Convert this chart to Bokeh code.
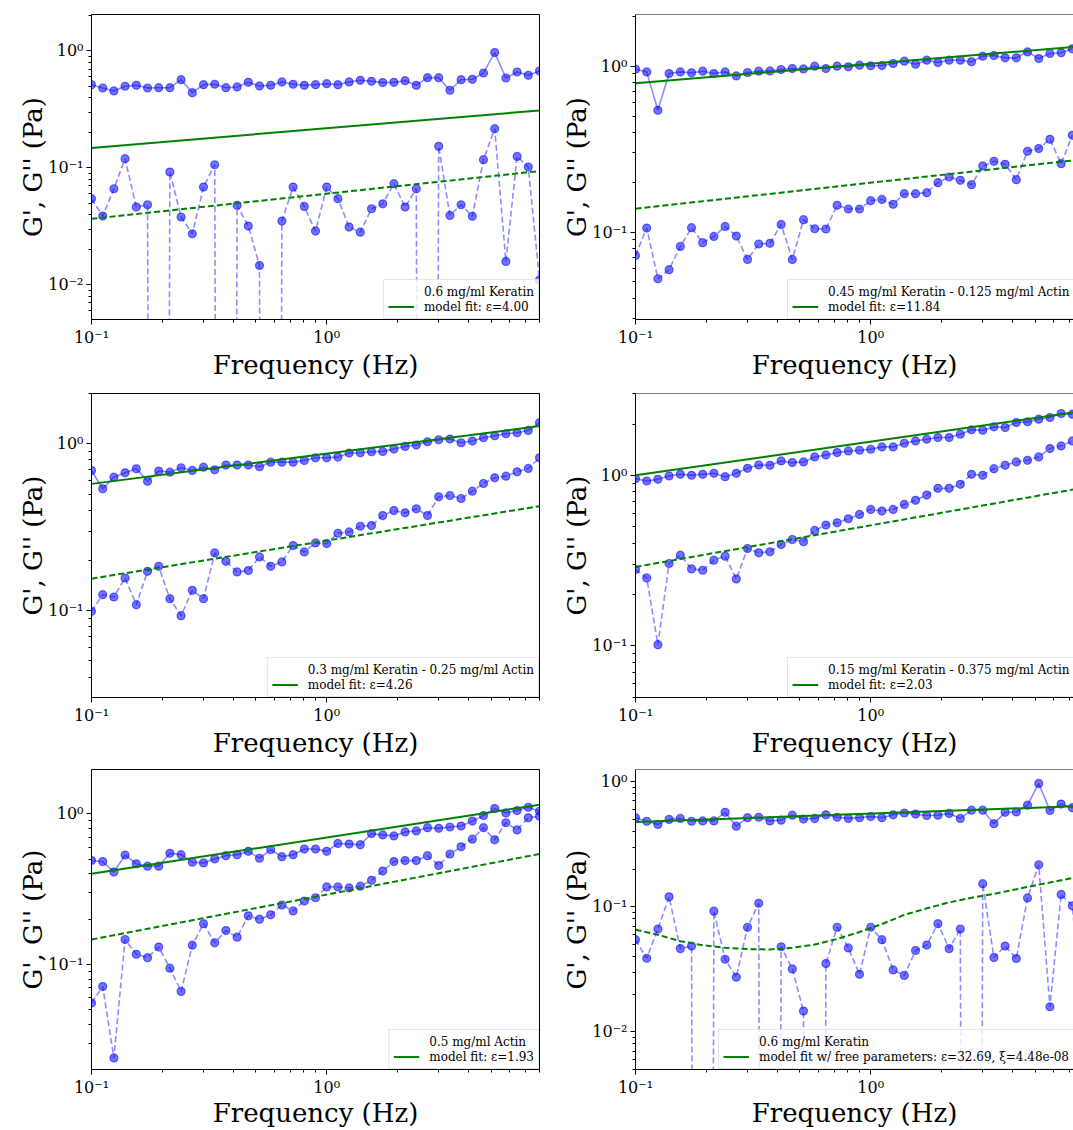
from bokeh.plotting import figure
from bokeh.models import FixedTicker, Legend, LegendItem, Span, Range1d
from bokeh.layouts import row, column
from bokeh.embed import file_html
from bokeh.resources import INLINE

# ---------------- data ----------------
freq = [0.1, 0.1116, 0.1245, 0.1389, 0.1551, 0.1731, 0.1931, 0.2154, 0.2404, 0.2683,
        0.2994, 0.3341, 0.3728, 0.4160, 0.4642, 0.5179, 0.5780, 0.6449, 0.7197, 0.8032,
        0.8962, 1.0, 1.116, 1.2455, 1.3895, 1.5508, 1.7307, 1.9307, 2.1544, 2.4043,
        2.6827, 2.9938, 3.341, 3.7276, 4.16, 4.6416, 5.1795, 5.7797, 6.4495, 7.1969, 8.0317]

# None = non-positive measurement (clipped on the log axis)
k06_storage = [0.515, 0.482, 0.455, 0.499, 0.508, 0.482, 0.485, 0.485, 0.568, 0.440,
               0.515, 0.519, 0.485, 0.492, 0.539, 0.502, 0.508, 0.543, 0.519, 0.508,
               0.515, 0.525, 0.515, 0.543, 0.561, 0.550, 0.536, 0.539, 0.557, 0.508,
               0.591, 0.591, 0.461, 0.568, 0.572, 0.648, 0.968, 0.587, 0.661, 0.619, 0.674]
k06_loss = [0.0545, 0.0387, 0.0663, 0.1198, 0.0462, 0.0484, None, 0.0921, 0.0380, 0.0273,
            0.0685, 0.1064, None, 0.0478, 0.0318, 0.01464, None, 0.0351, 0.0685, 0.0468,
            0.0288, 0.0685, 0.0545, 0.0312, 0.0282, 0.0447, 0.0493, 0.0732, 0.0462, 0.0663,
            None, 0.1528, 0.0392, 0.0484, 0.0385, 0.1175, 0.2165, 0.01584, 0.1254, 0.1016, 0.0110]

k045_storage = [0.959, 0.924, 0.542, 0.903, 0.924, 0.912, 0.933, 0.903, 0.924, 0.874,
                0.916, 0.933, 0.937, 0.955, 0.968, 0.963, 1.0, 0.968, 1.0, 0.991,
                1.014, 1.005, 1.009, 1.038, 1.072, 1.028, 1.087, 1.052, 1.087, 1.087,
                1.062, 1.149, 1.160, 1.123, 1.123, 1.220, 1.112, 1.193, 1.204, 1.273]
k045_loss = [0.0723, 0.1057, 0.0523, 0.0593, 0.0819, 0.1062, 0.0863, 0.0941, 0.1082, 0.0946,
             0.0684, 0.0847, 0.0855, 0.1112, 0.0684, 0.1187, 0.1047, 0.1043, 0.1449, 0.1377,
             0.1377, 0.1546, 0.1574, 0.1469, 0.1703, 0.1703, 0.1727, 0.1986, 0.2148, 0.205,
             0.193, 0.2503, 0.2671, 0.2562, 0.207, 0.3069, 0.3185, 0.3625, 0.2585, 0.3833]

k03_storage = [0.692, 0.537, 0.631, 0.670, 0.708, 0.597, 0.686, 0.676, 0.718, 0.692,
               0.724, 0.698, 0.745, 0.745, 0.745, 0.728, 0.776, 0.776, 0.776, 0.794,
               0.824, 0.824, 0.832, 0.879, 0.883, 0.895, 0.900, 0.929, 0.964, 0.982,
               1.028, 1.057, 1.067, 1.014, 1.038, 1.086, 1.117, 1.148, 1.164, 1.202, 1.337]
k03_loss = [0.0991, 0.1247, 0.1208, 0.157, 0.1086, 0.1722, 0.1845, 0.118, 0.0933, 0.1324,
            0.118, 0.2218, 0.1977, 0.1706, 0.1738, 0.2099, 0.1845, 0.1959, 0.2455, 0.2249,
            0.2547, 0.2523, 0.2911, 0.2965, 0.3206, 0.3236, 0.3715, 0.398, 0.3855, 0.4074,
            0.3715, 0.4808, 0.4898, 0.4699, 0.52, 0.578, 0.6252, 0.6397, 0.6792, 0.7112, 0.824]

k015_storage = [0.956, 0.926, 0.947, 0.991, 1.014, 1.0, 1.014, 1.027, 0.982, 1.027,
                1.099, 1.151, 1.145, 1.214, 1.187, 1.198, 1.282, 1.317, 1.359, 1.390,
                1.403, 1.422, 1.468, 1.468, 1.542, 1.592, 1.629, 1.666, 1.666, 1.742,
                1.848, 1.840, 1.924, 1.907, 2.040, 2.059, 2.135, 2.183, 2.305, 2.285]
k015_loss = [0.280, 0.250, 0.1014, 0.3037, 0.340, 0.2825, 0.2774, 0.3177, 0.3353, 0.2467,
             0.372, 0.3508, 0.3557, 0.3927, 0.420, 0.4073, 0.4747, 0.5105, 0.5266, 0.556,
             0.5897, 0.631, 0.617, 0.631, 0.675, 0.7128, 0.766, 0.8385, 0.8385, 0.885,
             1.014, 1.0, 1.094, 1.145, 1.198, 1.225, 1.282, 1.435, 1.488, 1.592]

a05_storage = [0.4897, 0.4825, 0.4108, 0.5333, 0.4659, 0.4497, 0.4497, 0.547, 0.536, 0.4777,
               0.4728, 0.502, 0.528, 0.536, 0.5637, 0.5073, 0.578, 0.520, 0.536, 0.584,
               0.584, 0.5637, 0.636, 0.630, 0.624, 0.7396, 0.725, 0.714, 0.7586, 0.770,
               0.8097, 0.8016, 0.818, 0.830, 0.895, 0.975, 1.084, 1.015, 1.052, 1.106, 1.041]
a05_loss = [0.0555, 0.0714, 0.0240, 0.1466, 0.1169, 0.1111, 0.1305, 0.0946, 0.0662, 0.1345,
            0.1866, 0.1393, 0.1679, 0.1518, 0.2104, 0.2, 0.2137, 0.2484, 0.227, 0.2638,
            0.2774, 0.3275, 0.3275, 0.3226, 0.3309, 0.3622, 0.417, 0.4825, 0.4897, 0.4897,
            0.528, 0.454, 0.5415, 0.6047, 0.679, 0.8097, 0.672, 0.873, 0.782, 0.941, 0.965]

# model fits (power laws: values at both ends of the frequency window)
fit_freq = [0.1, 8.0317]
fit_k06_storage = [0.148, 0.310]
fit_k06_loss = [0.0367, 0.094]
fit_k045_storage = [0.790, 1.323]
fit_k045_loss = [0.1383, 0.2748]
fit_k03_storage = [0.575, 1.276]
fit_k03_loss = [0.1556, 0.4227]
fit_k015_storage = [1.0, 2.381]
fit_k015_loss = [0.290, 0.846]
fit_a05_storage = [0.4007, 1.151]
fit_a05_loss = [0.1466, 0.5415]
free_storage = [0.4746, 0.639]
free_freq = [0.1, 0.1245, 0.1551, 0.1931, 0.2404, 0.2994, 0.3728, 0.4642, 0.5780, 0.7197,
             0.8962, 1.116, 1.3895, 1.7307, 2.1544, 2.6827, 3.341, 4.16, 5.1795, 6.4495, 7.1969]
free_loss = [0.0654, 0.0597, 0.0529, 0.0492, 0.0469, 0.0458, 0.0455, 0.0469, 0.0498, 0.0552,
             0.0627, 0.0726, 0.0860, 0.0970, 0.1082, 0.1178, 0.1267, 0.1378, 0.150, 0.1624, 0.1694]

y_tick_labels = {0.01: "10\u207b\u00b2", 0.1: "10\u207b\u00b9", 1: "10\u2070"}
x_tick_labels = {0.1: "10\u207b\u00b9", 1: "10\u2070"}

CLIP = 1e-30
SERIF = "DejaVu Serif"
MINORS = [m * d for d in (0.001, 0.01, 0.1, 1) for m in range(2, 10)]


def clip(vals):
    return [CLIP if v is None else v for v in vals]


def panel(storage, loss, fs, fl, fit_l_freq, yr, lab_data, lab_fit,
          right, h, top_b, bot_b, label_standoff, legend_x=None):
    w = 524 if right else 549
    x_end = 7.28 if right else 8.0317
    p = figure(width=w, height=h, x_axis_type="log", y_axis_type="log",
               x_range=Range1d(0.1, x_end), y_range=Range1d(yr[0], yr[1]),
               output_backend="svg", toolbar_location=None,
               min_border_left=86 if right else 91, min_border_right=0 if right else 10,
               min_border_top=top_b, min_border_bottom=bot_b,
               background_fill_color="white", border_fill_color="white")
    p.xgrid.visible = False
    p.ygrid.visible = False
    if right:
        p.outline_line_color = None
        p.add_layout(Span(location=yr[1], dimension="width", line_color="black", line_width=1))
    else:
        p.outline_line_color = "black"
    p.xaxis.ticker = FixedTicker(ticks=[0.1, 1], minor_ticks=MINORS)
    p.yaxis.ticker = FixedTicker(ticks=[0.01, 0.1, 1], minor_ticks=MINORS)
    p.xaxis.major_label_overrides = x_tick_labels
    p.yaxis.major_label_overrides = y_tick_labels
    p.xaxis.axis_label = "Frequency (Hz)"
    p.yaxis.axis_label = "G', G'' (Pa)"
    for ax in (p.xaxis[0], p.yaxis[0]):
        ax.major_label_text_font = SERIF
        ax.major_label_text_font_size = "16px"
        ax.major_label_text_color = "black"
        ax.axis_label_text_font = SERIF
        ax.axis_label_text_font_size = "26px"
        ax.axis_label_text_font_style = "normal"
        ax.axis_label_text_color = "black"
        ax.major_tick_out = 5
        ax.major_tick_in = 0
        ax.minor_tick_out = 3
        ax.minor_tick_in = 0
        ax.axis_line_color = "black"
        ax.major_tick_line_color = "black"
        ax.minor_tick_line_color = "black"
        ax.major_label_standoff = 3
    p.xaxis.axis_label_standoff = label_standoff
    p.yaxis.axis_label_standoff = -3

    f = freq[:len(storage)]
    p.line(f, storage, line_color="blue", line_alpha=0.45, line_width=1.6)
    p.scatter(f, storage, size=8, fill_color="blue", fill_alpha=0.55,
              line_color="blue", line_alpha=0.55, line_width=1.2)
    fl2 = freq[:len(loss)]
    p.line(fl2, clip(loss), line_color="blue", line_alpha=0.45, line_width=1.6, line_dash="6 3")
    p.scatter(fl2, clip(loss), size=8, fill_color="blue", fill_alpha=0.55,
              line_color="blue", line_alpha=0.55, line_width=1.2)

    fit_s = p.line(fit_freq, fs, line_color="green", line_width=2)
    p.line(fit_l_freq, fl, line_color="green", line_width=2, line_dash="6 3")

    dummy = p.line(x=[], y=[], line_alpha=0)
    legend = Legend(items=[LegendItem(label=lab_data, renderers=[dummy]),
                           LegendItem(label=lab_fit, renderers=[fit_s])],
                    location=(legend_x, 0) if legend_x is not None else "bottom_right",
                    margin=0, padding=4, spacing=0, label_standoff=10,
                    glyph_width=26, glyph_height=15, label_height=15,
                    label_text_font=SERIF, label_text_font_size="12px",
                    label_text_color="black",
                    border_line_color="#cccccc", border_line_width=1,
                    background_fill_color="white", background_fill_alpha=0.8)
    p.add_layout(legend)
    return p


p1 = panel(k06_storage, k06_loss, fit_k06_storage, fit_k06_loss, fit_freq,
           (0.00505, 2.05), "0.6 mg/ml Keratin", "model fit: \u03b5=4.00",
           False, 386, 14, 67, 0)
p2 = panel(k045_storage, k045_loss, fit_k045_storage, fit_k045_loss, fit_freq,
           (0.0297, 2.05), "0.45 mg/ml Keratin - 0.125 mg/ml Actin", "model fit: \u03b5=11.84",
           True, 386, 14, 67, 0, legend_x=152)
p3 = panel(k03_storage, k03_loss, fit_k03_storage, fit_k03_loss, fit_freq,
           (0.0302, 2.0), "0.3 mg/ml Keratin - 0.25 mg/ml Actin", "model fit: \u03b5=4.26",
           False, 377, 7, 66, 0)
p4 = panel(k015_storage, k015_loss, fit_k015_storage, fit_k015_loss, fit_freq,
           (0.0497, 3.02), "0.15 mg/ml Keratin - 0.375 mg/ml Actin", "model fit: \u03b5=2.03",
           True, 377, 7, 66, 0, legend_x=152)
p5 = panel(a05_storage, a05_loss, fit_a05_storage, fit_a05_loss, fit_freq,
           (0.0201, 1.97), "0.5 mg/ml Actin", "model fit: \u03b5=1.93",
           False, 367, 6, 57, -2)
p6 = panel(k06_storage, k06_loss, free_storage, free_loss, free_freq,
           (0.00499, 1.25), "0.6 mg/ml Keratin",
           "model fit w/ free parameters: \u03b5=32.69, \u03be=4.48e-08",
           True, 367, 6, 57, -2, legend_x=83)

layout = column(row(p1, p2), row(p3, p4), row(p5, p6))
open("out.html", "w").write(file_html(layout, INLINE))
